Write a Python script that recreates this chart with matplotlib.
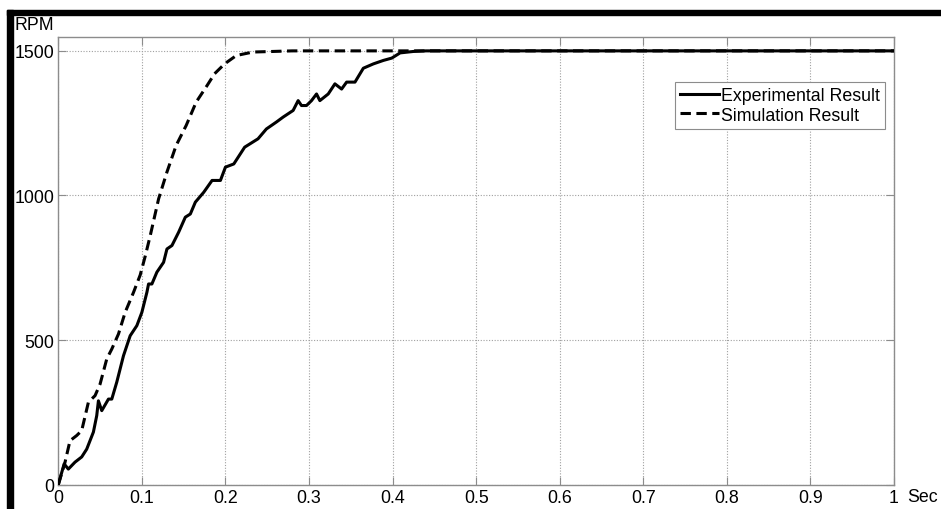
import matplotlib
matplotlib.use("Agg")
import matplotlib.pyplot as plt
from matplotlib.patches import Rectangle

plt.rcParams['font.family'] = ['Liberation Sans', 'DejaVu Sans']

# Experimental result (solid)
exp_t = [0.0, 0.007, 0.012, 0.02, 0.028, 0.034, 0.042, 0.046, 0.048, 0.052, 0.06, 0.064,
         0.07, 0.078, 0.086, 0.094, 0.1, 0.106, 0.108, 0.112, 0.118, 0.126, 0.13, 0.136,
         0.144, 0.152, 0.158, 0.164, 0.174, 0.184, 0.194, 0.2, 0.21, 0.223, 0.239, 0.249,
         0.261, 0.269, 0.281, 0.287, 0.291, 0.297, 0.303, 0.309, 0.313, 0.323, 0.331,
         0.339, 0.345, 0.355, 0.365, 0.377, 0.389, 0.399, 0.409, 0.425, 0.44, 1.0]
exp_rpm = [0, 72, 54, 78, 96, 123, 182, 239, 290, 256, 296, 296,
           355, 446, 515, 550, 596, 665, 694, 694, 735, 769, 815, 827,
           873, 925, 936, 977, 1011, 1052, 1052, 1098, 1109, 1167, 1196, 1230,
           1254, 1271, 1294, 1328, 1311, 1311, 1328, 1351, 1328, 1351, 1386,
           1368, 1392, 1392, 1440, 1455, 1467, 1475, 1493, 1498, 1500, 1500]

# Simulation result (dashed)
sim_t = [0.0, 0.008, 0.014, 0.022, 0.028, 0.036, 0.044, 0.05, 0.058, 0.064, 0.072, 0.08,
         0.09, 0.098, 0.104, 0.11, 0.12, 0.13, 0.141, 0.153, 0.165, 0.178, 0.187, 0.199,
         0.213, 0.233, 0.257, 0.28, 1.0]
sim_rpm = [0, 77, 152, 170, 187, 285, 308, 348, 435, 469, 521, 596,
           665, 725, 790, 861, 988, 1081, 1173, 1242, 1323, 1380, 1421, 1455,
           1484, 1496, 1498, 1500, 1500]

x_ticks = [0, 0.1, 0.2, 0.3, 0.4, 0.5, 0.6, 0.7, 0.8, 0.9, 1.0]
x_labels = ['0', '0.1', '0.2', '0.3', '0.4', '0.5', '0.6', '0.7', '0.8', '0.9', '1']
y_ticks = [0, 500, 1000, 1500]
y_labels = ['0', '500', '1000', '1500']

fig = plt.figure(figsize=(9.41, 5.10), dpi=100)
ax = fig.add_axes([58.3 / 941, (510 - 485.7) / 510, (894 - 58.3) / 941, (485.7 - 37.7) / 510])

gray = '#8c8c8c'
ax.plot(sim_t, sim_rpm, color='black', lw=2.2, ls=(0, (3.4, 1.8)), label='Simulation Result', zorder=3)
ax.plot(exp_t, exp_rpm, color='black', lw=2.2, label='Experimental Result', zorder=4)

ax.set_xlim(0, 1)
ax.set_ylim(0, 1549)
ax.set_xticks(x_ticks)
ax.set_xticklabels(x_labels)
ax.set_yticks(y_ticks)
ax.set_yticklabels(y_labels)
ax.tick_params(direction='in', length=6, width=0.8, color=gray, labelsize=12.8,
               top=True, right=True, pad=3)
ax.tick_params(axis='x', pad=3)
for s in ax.spines.values():
    s.set_color(gray)
    s.set_linewidth(1.0)
ax.grid(True, ls=(0, (1, 1.5)), color='#a0a0a0', lw=0.8)
ax.set_axisbelow(True)

h, l = ax.get_legend_handles_labels()
leg = ax.legend([h[1], h[0]], [l[1], l[0]], loc='upper right',
                bbox_to_anchor=((885 - 58.3) / (894 - 58.3), (485.7 - 82.7) / (485.7 - 37.7)),
                fontsize=12.8, frameon=True, fancybox=False, framealpha=1,
                edgecolor=gray, handlelength=2.2, handletextpad=0.1,
                borderpad=0.3, labelspacing=0.15, borderaxespad=0)
leg.get_frame().set_linewidth(0.8)

fig.text(14 / 941, 1 - 25 / 510, 'RPM', fontsize=12.8, ha='left', va='center')
fig.text(907 / 941, 1 - 498 / 510, 'Sec', fontsize=12.8, ha='left', va='center')

# thick black frame (top and left edges)
fig.patches.append(Rectangle((7 / 941, 1 - 16 / 510), 1, 5 / 510, transform=fig.transFigure,
                             color='black', zorder=10))
fig.patches.append(Rectangle((7 / 941, 0), 6 / 941, 1 - 11 / 510, transform=fig.transFigure,
                             color='black', zorder=10))

fig.savefig('out.png', dpi=100)
